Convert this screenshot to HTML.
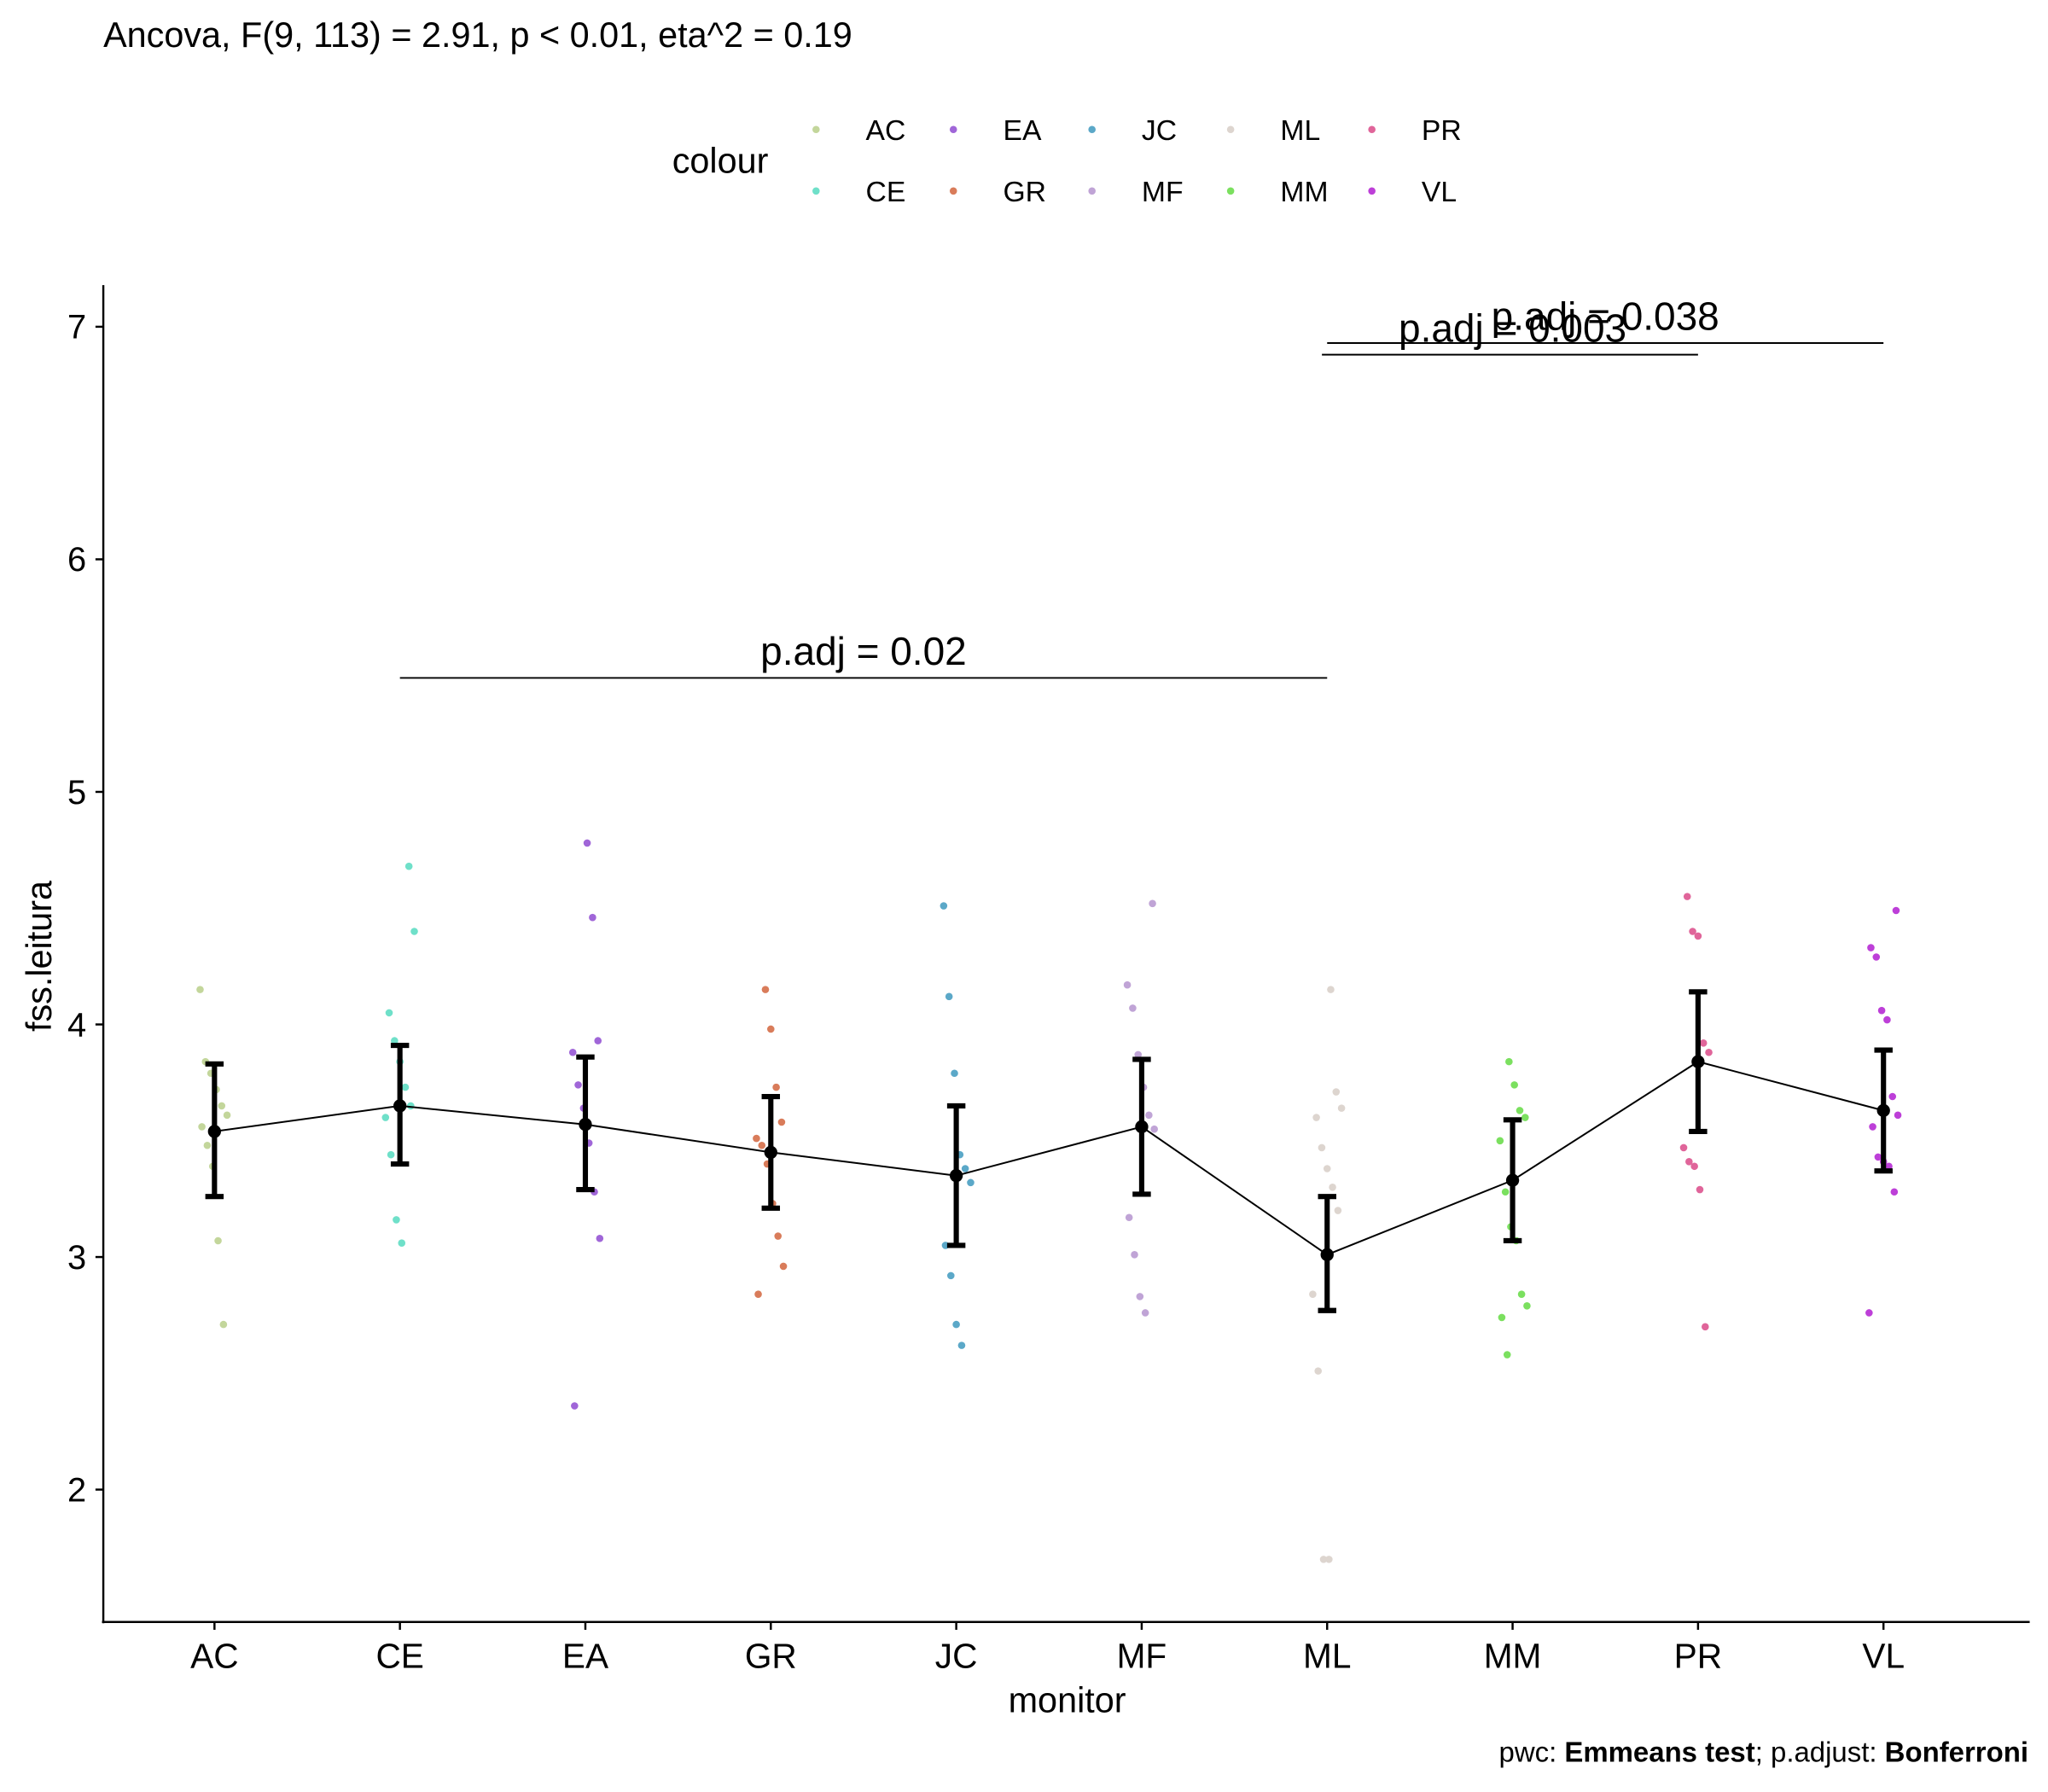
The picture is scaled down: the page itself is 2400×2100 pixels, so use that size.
<!DOCTYPE html>
<html><head><meta charset="utf-8"><style>
html,body{margin:0;padding:0;background:#fff;}
svg{display:block;font-family:"Liberation Sans",Arial,sans-serif;}
</style></head><body>
<svg id="chart" width="2400" height="2100" viewBox="0 0 1566 1370" preserveAspectRatio="none" xmlns="http://www.w3.org/2000/svg">
<rect width="1566" height="1370" fill="#fff"/>
<text x="79" y="36" font-size="27">Ancova, F(9, 113) = 2.91, p &lt; 0.01, eta^2 = 0.19</text>
<g id="legend">
<text x="514" y="132" font-size="27">colour</text>
</g>
<g id="plot"></g>
<line x1="79" y1="218" x2="79" y2="1241" stroke="#000" stroke-width="1.6"/>
<line x1="78" y1="1240" x2="1552" y2="1240" stroke="#000" stroke-width="1.6"/>
<text x="816" y="1309" font-size="27" text-anchor="middle">monitor</text>
<text transform="translate(39,731) rotate(-90)" font-size="27" text-anchor="middle">fss.leitura</text>
<text x="1551" y="1347" font-size="21.5" text-anchor="end">pwc: <tspan font-weight="bold">Emmeans test</tspan>; p.adjust: <tspan font-weight="bold">Bonferroni</tspan></text>
</svg>
<script>
const categories=["AC","CE","EA","GR","JC","MF","ML","MM","PR","VL"];
const colors=["#c3d69b","#6fe0c9","#a066d8","#d97c5a","#5ba8c8","#c0a4d6","#ddd5cf","#7be05f","#e0659a","#bd3fd8"];
const means=[3.54,3.65,3.57,3.45,3.35,3.56,3.01,3.33,3.84,3.63];
const lowers=[3.26,3.40,3.29,3.21,3.05,3.27,2.77,3.07,3.54,3.37];
const uppers=[3.83,3.91,3.86,3.69,3.65,3.85,3.26,3.59,4.14,3.89];
const yTicks=[2,3,4,5,6,7];
const ptsAC=[4.15,3.84,3.79,3.72,3.65,3.61,3.56,3.48,3.39,3.07,2.71];
const ptsCE=[4.68,4.40,4.05,3.93,3.84,3.73,3.65,3.60,3.44,3.16,3.06];
const ptsEA=[4.78,4.46,3.93,3.88,3.74,3.64,3.49,3.28,3.08,2.36];
const ptsGR=[4.15,3.98,3.73,3.58,3.51,3.48,3.40,3.23,3.09,2.96,2.84];
const ptsJC=[4.51,4.12,3.79,3.44,3.38,3.32,3.05,2.92,2.71,2.62];
const ptsMF=[4.52,4.17,4.07,3.87,3.73,3.61,3.55,3.17,3.01,2.83,2.76];
const ptsML=[4.15,3.71,3.64,3.60,3.47,3.38,3.30,3.20,2.84,2.51,1.70,1.70];
const ptsMM=[3.84,3.74,3.63,3.60,3.50,3.28,3.13,3.07,2.84,2.79,2.74,2.58];
const ptsPR=[4.55,4.40,4.38,3.92,3.88,3.47,3.41,3.39,3.29,2.70];
const ptsVL=[4.49,4.33,4.29,4.06,4.02,3.69,3.61,3.56,3.43,3.41,3.39,3.28,2.76];
const points=[ptsAC,ptsCE,ptsEA,ptsGR,ptsJC,ptsMF,ptsML,ptsMM,ptsPR,ptsVL];
const brkFrom=["CE","ML","ML"];
const brkTo=["ML","PR","VL"];
const brkY=[5.49,6.88,6.93];
const brkLabel=["p.adj = 0.02","p.adj = 0.003","p.adj = 0.038"];

const NS="http://www.w3.org/2000/svg";
const xS=i=>164+i*141.8;
const yS=v=>961-(v-3)*177.8;
const plot=document.getElementById('plot');
const svg=document.getElementById('chart');
function mk(tag,attrs,parent){const e=document.createElementNS(NS,tag);for(const k in attrs)e.setAttribute(k,attrs[k]);(parent||plot).appendChild(e);return e;}

yTicks.forEach(t=>{
  const l=mk('line',{x1:73,x2:79,y1:yS(t),y2:yS(t),stroke:'#000','stroke-width':1.6},svg);
  
  
  const tx=mk('text',{x:66,y:yS(t)+9,'font-size':26,'text-anchor':'end'},svg);
  tx.textContent=t;
  
  
});
categories.forEach((c,i)=>{
  const l=mk('line',{x1:xS(i),x2:xS(i),y1:1240,y2:1246,stroke:'#000','stroke-width':1.6},svg);
  
  
  const tx=mk('text',{x:xS(i),y:1275,'font-size':26.5,'text-anchor':'middle'},svg);
  tx.textContent=c;
  
  
});
points.forEach((arr,i)=>{
  arr.forEach((v,j)=>{
    const jit=(((j*37+i*13)%17)/16-0.5)*22;
    const c=mk('circle',{cx:xS(i)+jit,cy:yS(v),r:2.8,fill:colors[i]});
    
    
  });
});
const pl=mk('polyline',{points:means.map((m,i)=>xS(i)+','+yS(m)).join(' '),fill:'none',stroke:'#000','stroke-width':1.3});


means.forEach((m,i)=>{
  const g=mk('g',{stroke:'#000','stroke-width':4});
  
  
  mk('line',{x1:xS(i),x2:xS(i),y1:yS(lowers[i]),y2:yS(uppers[i])},g);
  mk('line',{x1:xS(i)-7,x2:xS(i)+7,y1:yS(lowers[i]),y2:yS(lowers[i])},g);
  mk('line',{x1:xS(i)-7,x2:xS(i)+7,y1:yS(uppers[i]),y2:yS(uppers[i])},g);
  const c=mk('circle',{cx:xS(i),cy:yS(m),r:5,fill:'#000'});
  
  
});
brkFrom.forEach((f,k)=>{
  const a=xS(categories.indexOf(f)), b=xS(categories.indexOf(brkTo[k]));
  const off=k===1?-4:0;
  const l=mk('line',{x1:a+off,x2:b,y1:yS(brkY[k]),y2:yS(brkY[k]),stroke:'#000','stroke-width':1.3});
  
  
  const t=mk('text',{x:(a+b)/2,y:yS(brkY[k])-10,'font-size':30,'text-anchor':'middle'});
  t.textContent=brkLabel[k];
  
  
});
const legend=document.getElementById('legend');
categories.forEach((c,i)=>{
  const col=Math.floor(i/2), row=i%2;
  const dx=[624,729,835,941,1049][col], y=row?146:99;
  const d=mk('circle',{cx:dx,cy:y,r:2.8,fill:colors[i]},legend);
  
  
  const t=mk('text',{x:dx+38,y:y+8,'font-size':22},legend);
  t.textContent=c;
  
  
});
</script>
</body></html>
